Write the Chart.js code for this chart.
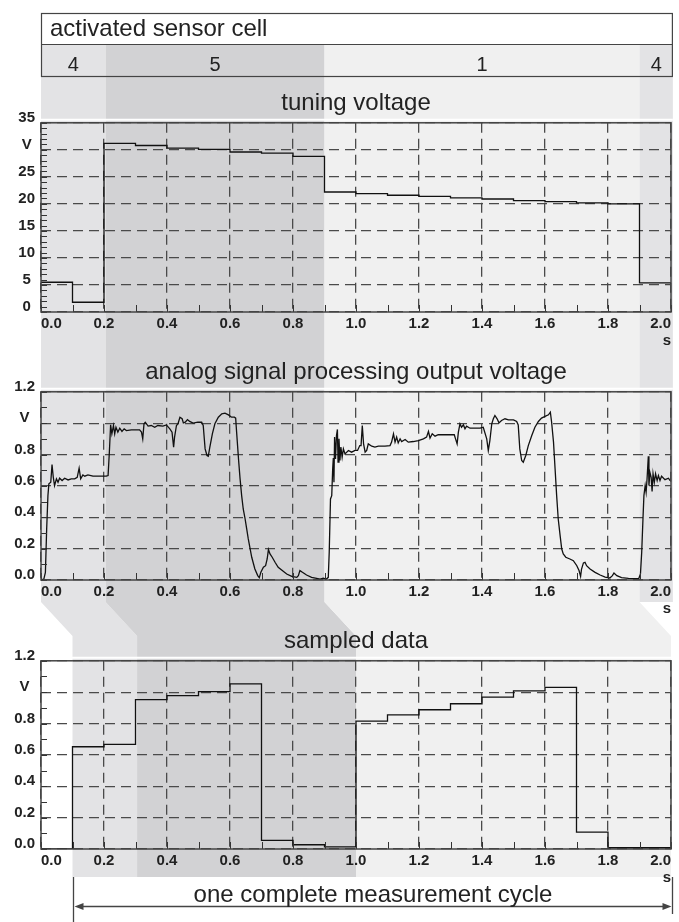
<!DOCTYPE html>
<html>
<head>
<meta charset="utf-8">
<script src="https://cdn.jsdelivr.net/npm/chart.js@4.4.1/dist/chart.umd.min.js"></script>
<style>
body { margin: 0; background: #fff; }
#wrap { position: relative; width: 679px; height: 922px; overflow: hidden;
        font-family: "Liberation Sans", Arial, sans-serif; color: #222; }
#wrap canvas { position: absolute; left: 0; }
.lbl { position: absolute; white-space: nowrap; line-height: 1; }
</style>
</head>
<body>
<div id="wrap">
  <canvas id="bg" width="679" height="922" style="top:0"></canvas>
  <canvas id="tuning" width="679" height="273" style="top:79px"></canvas>
  <canvas id="analog" width="679" height="272" style="top:348px"></canvas>
  <canvas id="sampled" width="679" height="272" style="top:617px"></canvas>
</div>
<script>
// activated sensor cells (time in s)
const cellNames = ['4', '5', '1', '4'];
const cellStart = [0.0, 0.205, 0.9, 1.9];
const cellEnd = [0.205, 0.9, 1.9, 2.006];
const cellColors = ['#e3e3e5', '#d2d2d4', '#f0f0f0', '#e3e3e5'];
const sampleDelay = 0.1;

// tuning voltage, held from each time to the next
const tuneTime = [0.0, 0.1, 0.2, 0.3, 0.4, 0.5, 0.6, 0.7, 0.8, 0.9, 1.0, 1.1, 1.2, 1.3, 1.4, 1.5, 1.6, 1.7, 1.8, 1.9, 2.0];
const tuneVolt = [5.5, 1.8, 31.2, 30.8, 30.3, 30.1, 29.6, 29.4, 28.8, 22.2, 21.9, 21.6, 21.4, 21.1, 20.9, 20.6, 20.4, 20.2, 20.0, 5.4, 5.4];

// analog signal processing output voltage
const anaTime = [0.000, 0.009, 0.014, 0.018, 0.022, 0.025, 0.031, 0.035, 0.039, 0.043, 0.049, 0.054, 0.059, 0.067, 0.075, 0.086, 0.096, 0.107, 0.115, 0.121,
  0.126, 0.133, 0.139, 0.149, 0.165, 0.181, 0.207, 0.213, 0.217, 0.221, 0.225, 0.230, 0.234, 0.238, 0.244, 0.250, 0.257, 0.264, 0.271, 0.287,
  0.313, 0.319, 0.323, 0.327, 0.331, 0.340, 0.350, 0.361, 0.371, 0.387, 0.398, 0.409, 0.416, 0.421, 0.424, 0.430, 0.435, 0.441, 0.448, 0.452,
  0.458, 0.465, 0.472, 0.483, 0.498, 0.510, 0.515, 0.521, 0.527, 0.531, 0.536, 0.544, 0.552, 0.563, 0.574, 0.584, 0.595, 0.605, 0.614, 0.618,
  0.621, 0.627, 0.632, 0.637, 0.642, 0.648, 0.653, 0.658, 0.669, 0.679, 0.688, 0.693, 0.698, 0.706, 0.713, 0.718, 0.722, 0.727, 0.734, 0.743,
  0.753, 0.766, 0.780, 0.796, 0.812, 0.817, 0.822, 0.830, 0.843, 0.859, 0.875, 0.886, 0.896, 0.906, 0.912, 0.915, 0.919, 0.923, 0.926, 0.928,
  0.930, 0.932, 0.935, 0.938, 0.941, 0.943, 0.946, 0.949, 0.952, 0.956, 0.960, 0.965, 0.976, 0.986, 0.997, 1.005, 1.012, 1.016, 1.020, 1.024,
  1.029, 1.034, 1.039, 1.050, 1.060, 1.071, 1.092, 1.108, 1.113, 1.119, 1.124, 1.129, 1.134, 1.140, 1.145, 1.156, 1.166, 1.182, 1.198, 1.214,
  1.224, 1.230, 1.235, 1.242, 1.251, 1.261, 1.283, 1.312, 1.316, 1.321, 1.325, 1.330, 1.335, 1.341, 1.346, 1.351, 1.362, 1.378, 1.394, 1.404,
  1.415, 1.420, 1.425, 1.431, 1.436, 1.441, 1.448, 1.454, 1.462, 1.473, 1.484, 1.500, 1.510, 1.515, 1.520, 1.526, 1.531, 1.539, 1.547, 1.558,
  1.568, 1.579, 1.589, 1.600, 1.611, 1.617, 1.621, 1.627, 1.632, 1.637, 1.642, 1.648, 1.653, 1.658, 1.666, 1.679, 1.690, 1.701, 1.708, 1.713,
  1.716, 1.722, 1.727, 1.732, 1.743, 1.759, 1.775, 1.791, 1.806, 1.814, 1.819, 1.828, 1.843, 1.865, 1.886, 1.898, 1.903, 1.907, 1.911, 1.914,
  1.918, 1.921, 1.924, 1.928, 1.930, 1.933, 1.937, 1.940, 1.943, 1.947, 1.951, 1.956, 1.960, 1.965, 1.970, 1.981, 1.992, 1.997];
const anaVolt = [0.000, 0.006, 0.049, 0.326, 0.538, 0.613, 0.623, 0.736, 0.655, 0.602, 0.645, 0.623, 0.649, 0.634, 0.649, 0.638, 0.645, 0.645, 0.655, 0.713,
  0.645, 0.670, 0.662, 0.670, 0.662, 0.662, 0.662, 0.666, 0.815, 0.989, 0.932, 0.985, 0.932, 0.974, 0.943, 0.968, 0.947, 0.964, 0.953, 0.957,
  0.957, 0.943, 0.900, 0.996, 1.006, 0.981, 0.985, 0.974, 0.985, 0.981, 0.989, 0.964, 0.943, 0.847, 0.911, 0.985, 0.996, 1.038, 1.028, 1.002,
  1.006, 1.023, 1.011, 1.000, 1.006, 1.006, 0.985, 0.836, 0.794, 0.789, 0.847, 0.932, 0.996, 1.038, 1.060, 1.064, 1.053, 1.038, 1.038, 1.032,
  0.943, 0.772, 0.645, 0.538, 0.453, 0.389, 0.326, 0.262, 0.145, 0.070, 0.028, 0.015, 0.049, 0.081, 0.091, 0.134, 0.194, 0.166, 0.145, 0.113,
  0.081, 0.060, 0.038, 0.023, 0.017, 0.028, 0.060, 0.049, 0.032, 0.017, 0.011, 0.006, 0.011, 0.006, 0.017, 0.177, 0.517, 0.538, 0.709, 0.777,
  0.623, 0.911, 0.772, 0.921, 0.960, 0.751, 0.900, 0.762, 0.847, 0.783, 0.836, 0.804, 0.826, 0.815, 0.826, 0.826, 0.857, 0.857, 0.985, 0.868,
  0.815, 0.826, 0.868, 0.853, 0.847, 0.853, 0.853, 0.857, 0.879, 0.932, 0.879, 0.911, 0.874, 0.900, 0.883, 0.896, 0.879, 0.883, 0.889, 0.900,
  0.911, 0.947, 0.904, 0.932, 0.917, 0.926, 0.926, 0.926, 0.900, 0.868, 0.943, 0.996, 0.974, 0.989, 0.964, 0.981, 0.968, 0.968, 0.968, 0.974,
  0.900, 0.826, 0.889, 0.996, 1.028, 1.049, 1.028, 1.002, 1.017, 1.028, 1.021, 1.021, 1.011, 0.989, 0.836, 0.762, 0.751, 0.794, 0.857, 0.921,
  0.974, 1.011, 1.032, 1.043, 1.053, 1.070, 1.006, 0.879, 0.709, 0.538, 0.389, 0.283, 0.198, 0.166, 0.145, 0.134, 0.123, 0.091, 0.060, 0.023,
  0.070, 0.109, 0.113, 0.091, 0.070, 0.049, 0.032, 0.019, 0.013, 0.028, 0.045, 0.028, 0.015, 0.011, 0.009, 0.011, 0.038, 0.177, 0.389, 0.538,
  0.602, 0.560, 0.645, 0.789, 0.602, 0.687, 0.655, 0.564, 0.677, 0.623, 0.677, 0.634, 0.666, 0.634, 0.662, 0.640, 0.649, 0.634];

// sampled data, held from each sample time to the next
const sampTime = [0.0, 0.1, 0.2, 0.3, 0.4, 0.5, 0.6, 0.7, 0.8, 0.9, 1.0, 1.1, 1.2, 1.3, 1.4, 1.5, 1.6, 1.7, 1.8, 1.9, 2.0];
const sampVolt = [0.0, 0.652, 0.667, 0.952, 0.978, 1.004, 1.053, 0.055, 0.027, 0.013, 0.815, 0.855, 0.888, 0.926, 0.968, 1.008, 1.03, 0.108, 0.008, 0.008, 0.008];

Chart.defaults.font.family = '"Liberation Sans", Arial, sans-serif';
Chart.defaults.color = '#222';

// frame round the plot and the small ticks inside it
const framePlugin = {
  id: 'frame',
  afterDatasetsDraw(chart, args, opts) {
    const {ctx, chartArea: a, scales: {x, y}} = chart;
    ctx.save();
    ctx.strokeStyle = '#333';
    ctx.lineWidth = 1;
    ctx.beginPath();
    const nx = Math.round((x.max - x.min) / opts.minorX);
    for (let i = 0; i <= nx; i++) {
      const px = Math.round(x.getPixelForValue(x.min + i * opts.minorX)) + 0.5;
      ctx.moveTo(px, a.bottom);
      ctx.lineTo(px, a.bottom - 7);
    }
    const ny = Math.round((y.max - y.min) / opts.minorY);
    for (let i = 0; i <= ny; i++) {
      const py = Math.round(y.getPixelForValue(y.min + i * opts.minorY)) + 0.5;
      ctx.moveTo(a.left, py);
      ctx.lineTo(a.left + 6, py);
    }
    ctx.stroke();
    ctx.strokeStyle = '#444';
    ctx.lineWidth = 1.5;
    ctx.strokeRect(a.left, a.top, a.right - a.left, a.bottom - a.top);
    ctx.restore();
  }
};

function makeChart(id, title, xs, ys, stepped, yMax, yStep, yMinor, vLabel) {
  const points = xs.map((t, i) => ({x: t, y: ys[i]}));
  return new Chart(document.getElementById(id), {
    type: 'line',
    data: {
      datasets: [{
        data: points,
        borderColor: '#111',
        borderWidth: 1.3,
        pointRadius: 0,
        stepped: stepped,
        tension: 0,
        fill: false
      }]
    },
    options: {
      responsive: false,
      animation: false,
      layout: { padding: { left: 0, right: 8, top: 0, bottom: 0 } },
      plugins: {
        legend: { display: false },
        tooltip: { enabled: false },
        title: {
          display: true,
          text: title,
          fullSize: false,
          color: '#222',
          font: { size: 24, weight: 'normal' },
          padding: { top: 10, bottom: 5 }
        },
        frame: { minorX: 0.1, minorY: yMinor }
      },
      scales: {
        x: {
          type: 'linear',
          min: 0,
          max: 2.0,
          grid: { color: '#4a4a4a', lineWidth: 1.3, drawTicks: false },
          border: { display: false, dash: [10, 6] },
          ticks: {
            stepSize: 0.2,
            align: 'inner',
            padding: 3,
            maxRotation: 0,
            autoSkip: false,
            font: { size: 15, weight: 'bold' },
            callback: (v) => v.toFixed(1)
          },
          title: {
            display: true,
            text: 's',
            align: 'end',
            padding: { top: 0, bottom: 2 },
            font: { size: 15, weight: 'bold' }
          },
          afterFit: (s) => { s.height = 40; }
        },
        y: {
          min: 0,
          max: yMax,
          grid: { color: '#4a4a4a', lineWidth: 1.3, drawTicks: false },
          border: { display: false, dash: [10, 6] },
          ticks: {
            stepSize: yStep,
            crossAlign: 'center',
            padding: 6,
            labelOffset: -5,
            font: { size: 15, weight: 'bold' },
            callback: (v) => Math.abs(v - vLabel) < 1e-6 ? 'V' : (yStep < 1 ? v.toFixed(1) : v)
          },
          afterFit: (s) => { s.width = 41; }
        }
      }
    },
    plugins: [framePlugin]
  });
}

const tuning = makeChart('tuning', 'tuning voltage', tuneTime, tuneVolt, true, 35, 5, 1, 30);
const analog = makeChart('analog', 'analog signal processing output voltage', anaTime, anaVolt, false, 1.2, 0.2, 0.1, 1.0);
const sampled = makeChart('sampled', 'sampled data', sampTime, sampVolt, true, 1.2, 0.2, 0.1, 1.0);

// background: cell bands, top box, bottom arrow
const wrap = document.getElementById('wrap');
const g = document.getElementById('bg').getContext('2d');
const px = (t) => tuning.scales.x.getPixelForValue(t);
const shift = px(sampleDelay) - px(0);
const boxTop = 13, boxMid = 44, bendTop = 602, bendBottom = 636, bandBottom = 877;
const boxLeft = px(cellStart[0]), boxRight = px(cellEnd[cellEnd.length - 1]);

g.save();
g.beginPath();
g.rect(boxLeft, 0, boxRight - boxLeft, 922);
g.clip();
cellNames.forEach((name, i) => {
  const x0 = px(cellStart[i]), x1 = px(cellEnd[i]);
  g.fillStyle = cellColors[i];
  g.beginPath();
  g.moveTo(x0, boxMid);
  g.lineTo(x1, boxMid);
  if (i === cellNames.length - 1) {
    g.lineTo(x1, bendTop);
    g.lineTo(x0, bendTop);
  } else {
    g.lineTo(x1, bendTop);
    g.lineTo(x1 + shift, bendBottom);
    g.lineTo(x1 + shift, bandBottom);
    g.lineTo(x0 + shift, bandBottom);
    g.lineTo(x0 + shift, bendBottom);
    g.lineTo(x0, bendTop);
  }
  g.closePath();
  g.fill();
});
g.restore();

// thin white gap above each plot
g.strokeStyle = '#fff';
g.lineWidth = 2;
[[tuning, 79], [analog, 348], [sampled, 617]].forEach(([c, top]) => {
  const y = top + c.chartArea.top - 3;
  g.beginPath();
  g.moveTo(boxLeft, y);
  g.lineTo(boxRight, y);
  g.stroke();
});

// box of the activated sensor cell
g.strokeStyle = '#444';
g.lineWidth = 1.2;
g.strokeRect(boxLeft + 0.5, boxTop + 0.5, boxRight - boxLeft - 1, 63);
g.beginPath();
g.moveTo(boxLeft, boxMid + 0.5);
g.lineTo(boxRight, boxMid + 0.5);
g.stroke();

function addLabel(text, left, top, size, center) {
  const d = document.createElement('div');
  d.className = 'lbl';
  d.textContent = text;
  d.style.fontSize = size + 'px';
  d.style.top = top + 'px';
  d.style.left = left + 'px';
  if (center) d.style.transform = 'translateX(-50%)';
  wrap.appendChild(d);
}
addLabel('activated sensor cell', boxLeft + 9, 16, 24, false);
cellNames.forEach((name, i) => {
  addLabel(name, (px(cellStart[i]) + px(cellEnd[i])) / 2, 54, 20, true);
});

// one complete measurement cycle
const sx = (t) => sampled.scales.x.getPixelForValue(t);
const aL = Math.round(sx(sampleDelay)) + 0.5, aR = Math.round(sx(2.0)) + 1.5, aY = 906.5;
g.strokeStyle = '#444';
g.fillStyle = '#444';
g.lineWidth = 1.3;
g.beginPath();
g.moveTo(aL, bandBottom); g.lineTo(aL, 922);
g.moveTo(aR, bandBottom); g.lineTo(aR, 914);
g.moveTo(aL + 6, aY); g.lineTo(aR - 6, aY);
g.stroke();
g.beginPath();
g.moveTo(aL + 1, aY); g.lineTo(aL + 10, aY - 3.5); g.lineTo(aL + 10, aY + 3.5); g.closePath();
g.moveTo(aR - 1, aY); g.lineTo(aR - 10, aY - 3.5); g.lineTo(aR - 10, aY + 3.5); g.closePath();
g.fill();
addLabel('one complete measurement cycle', (aL + aR) / 2, 882, 24, true);
</script>
</body>
</html>
